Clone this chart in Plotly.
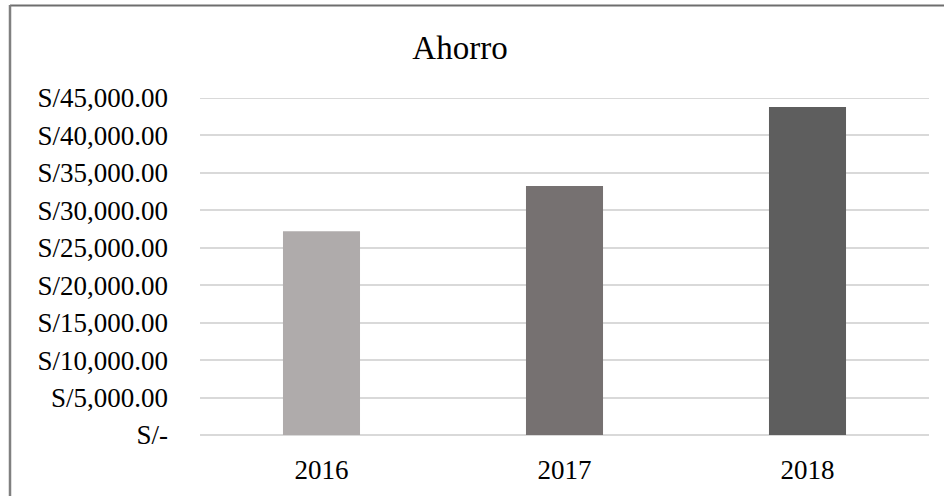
import plotly.graph_objects as go

# Savings per year (soles)
years = ["2016", "2017", "2018"]
ahorro = [27200, 33250, 43800]
bar_colors = ["#AFABAB", "#767171", "#5E5E5E"]

# Y axis ticks in currency format
y_tickvals = [0, 5000, 10000, 15000, 20000, 25000, 30000, 35000, 40000, 45000]
y_ticktext = ["S/-", "S/5,000.00", "S/10,000.00", "S/15,000.00", "S/20,000.00",
              "S/25,000.00", "S/30,000.00", "S/35,000.00", "S/40,000.00", "S/45,000.00"]

W, H = 944, 496
ML, MR, MT, MB = 200, 15, 98, 61
pw, ph = W - ML - MR, H - MT - MB

fig = go.Figure(go.Bar(
    x=years, y=ahorro, marker=dict(color=bar_colors, line=dict(width=0)),
    hoverinfo="x+y",
))

font_family = "Liberation Serif, Times New Roman, serif"

fig.update_layout(
    width=W, height=H,
    margin=dict(l=ML, r=MR, t=MT, b=MB, pad=0),
    paper_bgcolor="white", plot_bgcolor="white",
    bargap=0.683,
    showlegend=False,
    font=dict(family=font_family, color="#000000", size=27),
    title=dict(text="Ahorro", x=460 / W, xanchor="center",
               y=1 - 47 / H, yanchor="middle", yref="container",
               font=dict(family=font_family, size=33, color="#000000")),
    xaxis=dict(showgrid=False, showline=False, zeroline=False, ticks="",
               tickfont=dict(size=27), ticklabelstandoff=16, fixedrange=True),
    yaxis=dict(range=[0, 45000], tickvals=y_tickvals, ticktext=y_ticktext,
               showgrid=True, gridcolor="#D9D9D9", gridwidth=2,
               zeroline=True, zerolinecolor="#D9D9D9", zerolinewidth=2,
               showline=False, ticks="", ticklabelstandoff=31,
               tickfont=dict(size=27), fixedrange=True),
)

# Top gridline sits on the plot edge, so draw it explicitly
fig.add_hline(y=y_tickvals[-1], line=dict(color="#D9D9D9", width=2), layer="below")

# Chart-area frame (left and top edges visible)
def px_x(p):
    return (p - ML) / pw

def px_y(p):
    return (H - MB - p) / ph

fig.add_shape(type="line", xref="paper", yref="paper",
              x0=px_x(10), x1=px_x(950), y0=px_y(5.5), y1=px_y(5.5),
              line=dict(color="#6E6E6E", width=2))
fig.add_shape(type="line", xref="paper", yref="paper",
              x0=px_x(10), x1=px_x(10), y0=px_y(5), y1=px_y(500),
              line=dict(color="#808080", width=2.5))

fig.write_html("out.html", config={"displayModeBar": False})
